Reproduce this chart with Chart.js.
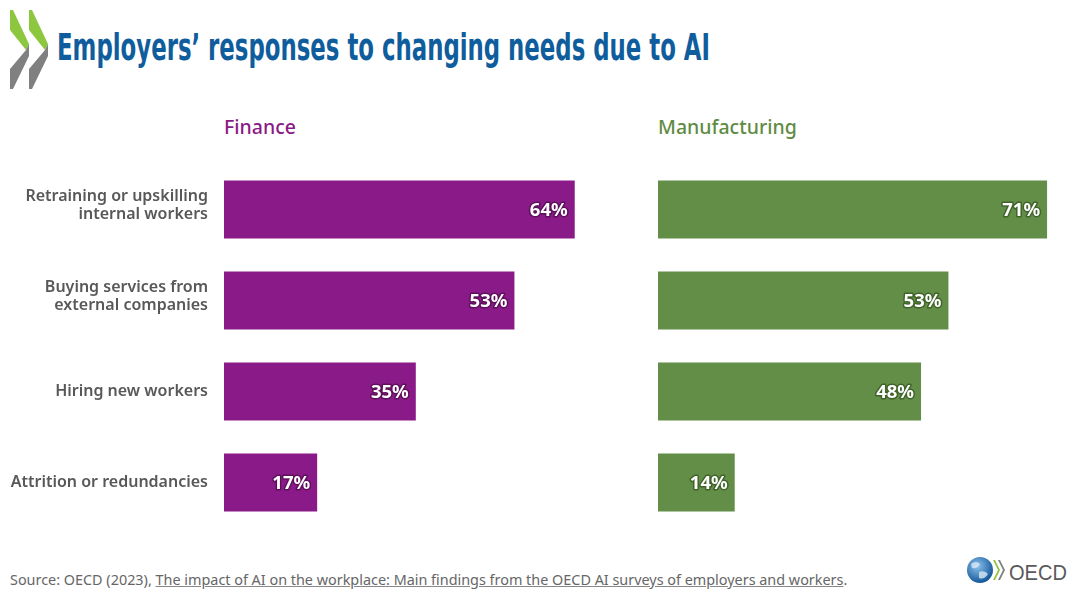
<html>
  <head>
    <meta charset="utf-8" />
    <title>Employers' responses to changing needs due to AI</title>
    <style>
      body {
        margin: 0;
        padding: 0;
        background-color: #ffffff;
        font-family: "Noto Sans", "Open Sans", sans-serif;
      }
      #page {
        position: relative;
        width: 1080px;
        height: 608px;
        overflow: hidden;
      }
      #title {
        position: absolute;
        left: 57px;
        top: 22px;
        font-family: "Liberation Sans Narrow", "DejaVu Sans Condensed", "Liberation Sans", sans-serif;
        font-weight: bold;
        font-size: 38px;
        line-height: 50px;
        color: #0f5d9c;
        white-space: nowrap;
        transform-origin: 0 0;
      }
      .panelTitle {
        position: absolute;
        top: 113px;
        font-size: 19.5px;
        font-weight: 500;
      }
      #financeTitle { left: 224px; color: #8a1a87; }
      #manufTitle { left: 658px; color: #5f8b43; }
      #financeBox { position: absolute; left: 0; top: 164px; width: 635px; height: 364px; }
      #manufBox { position: absolute; left: 658px; top: 164px; width: 411px; height: 364px; }
      #source {
        position: absolute;
        left: 10px;
        top: 570px;
        font-size: 14.4px;
        color: #666666;
        white-space: nowrap;
      }
      #source u { text-decoration-color: #888; }
      #logo { position: absolute; left: 0; top: 0; }
      #oecd { position: absolute; left: 955px; top: 553px; }
    </style>
    <script src="https://cdn.jsdelivr.net/npm/chart.js"></script>
  </head>
  <body>
    <div id="page">
      <svg id="logo" width="60" height="100">
        <polygon points="10,10 13,10 29,44 26,50 10,30" fill="#8dc63f" />
        <polygon points="29,10 32,10 48,44 45,50 29,30" fill="#8dc63f" />
        <polygon points="26,50 29,44 29,56 13,89 10,89 10,69" fill="#808080" />
        <polygon points="45,50 48,44 48,56 32,89 29,89 29,69" fill="#808080" />
      </svg>
      <div id="title">Employers’ responses to changing needs due to AI</div>
      <div class="panelTitle" id="financeTitle">Finance</div>
      <div class="panelTitle" id="manufTitle">Manufacturing</div>
      <div id="financeBox"><canvas id="financeChart"></canvas></div>
      <div id="manufBox"><canvas id="manufChart"></canvas></div>
      <div id="source">Source: OECD (2023), <u>The impact of AI on the workplace: Main findings from the OECD AI surveys of employers and workers</u>.</div>
      <svg id="oecd" width="125" height="36">
        <defs>
          <radialGradient id="globe" cx="0.4" cy="0.35" r="0.7">
            <stop offset="0" stop-color="#8cc3ec" />
            <stop offset="1" stop-color="#0b4f94" />
          </radialGradient>
        </defs>
        <circle cx="25" cy="17" r="13" fill="url(#globe)" />
        <path d="M16 11 q5 -4 9 0 q-2 5 -8 4 z M24 19 q6 -2 9 2 q-4 6 -9 4 z" fill="#dbe9f5" opacity="0.8" />
        <polygon points="38,7 40,7 45,17 40,27 38,27 43,17" fill="#8dc63f" />
        <polygon points="43,7 45,7 50,17 45,27 43,27 48,17" fill="#808080" />
        <text x="54" y="27" font-family="Liberation Sans, Arial, sans-serif" font-size="22" fill="#5a5a5a" textLength="58" lengthAdjust="spacingAndGlyphs">OECD</text>
      </svg>
    </div>
    <script>
      const categories = [
        ["Retraining or upskilling", "internal workers"],
        ["Buying services from", "external companies"],
        ["Hiring new workers"],
        ["Attrition or redundancies"]
      ];
      const financeValues = [64, 53, 35, 17];
      const manufacturingValues = [71, 53, 48, 14];

      // squeeze the title into the same width as the original
      const title = document.getElementById("title");
      const tw = title.getBoundingClientRect().width;
      title.style.transform = "scaleX(" + (653 / tw) + ")";

      // value labels at the end of each bar + category labels on the left
      const barText = {
        id: "barText",
        afterDatasetsDraw(chart, args, opts) {
          const ctx = chart.ctx;
          const meta = chart.getDatasetMeta(0);
          ctx.save();
          ctx.lineJoin = "round";
          meta.data.forEach((bar, i) => {
            const txt = chart.data.datasets[0].data[i] + "%";
            ctx.font = "bold 18.5px 'Noto Sans', 'Open Sans', sans-serif";
            ctx.textAlign = "right";
            ctx.textBaseline = "middle";
            ctx.lineWidth = 3;
            ctx.strokeStyle = opts.shadow;
            ctx.strokeText(txt, bar.x - 7, bar.y + 1);
            ctx.fillStyle = "#ffffff";
            ctx.fillText(txt, bar.x - 7, bar.y + 1);

            if (opts.showLabels) {
              const lines = chart.data.labels[i];
              const lh = 18;
              const shift = lines.length > 1 ? -4 : 0;
              ctx.font = "600 16px 'Noto Sans', 'Open Sans', sans-serif";
              ctx.fillStyle = "#585858";
              lines.forEach((line, k) => {
                const y = bar.y + shift + (k - (lines.length - 1) / 2) * lh;
                ctx.fillText(line, chart.chartArea.left - 16, y);
              });
            }
          });
          ctx.restore();
        }
      };

      function makeChart(id, values, colour, shadow, showLabels) {
        return new Chart(document.getElementById(id), {
          type: "bar",
          data: {
            labels: categories,
            datasets: [{
              data: values,
              backgroundColor: colour,
              borderWidth: 0,
              barPercentage: 0.64,
              categoryPercentage: 1
            }]
          },
          options: {
            indexAxis: "y",
            responsive: true,
            maintainAspectRatio: false,
            animation: false,
            layout: { padding: { left: showLabels ? 224 : 0, right: 0, top: 0, bottom: 0 } },
            plugins: {
              legend: { display: false },
              tooltip: { enabled: false },
              barText: { shadow: shadow, showLabels: showLabels }
            },
            scales: {
              x: { display: false, min: 0, max: 75 },
              y: { display: false }
            }
          },
          plugins: [barText]
        });
      }

      makeChart("financeChart", financeValues, "#8a1a87", "#5e0f5c", true);
      makeChart("manufChart", manufacturingValues, "#638e47", "#3f6329", false);
    </script>
  </body>
</html>
